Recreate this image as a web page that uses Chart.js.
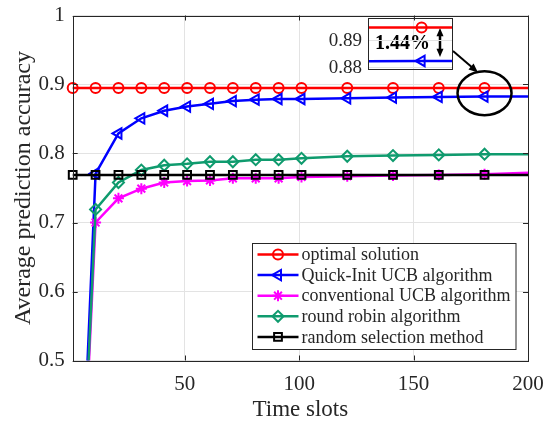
<!DOCTYPE html>
<html>
<head>
<meta charset="utf-8">
<script src="https://cdn.jsdelivr.net/npm/chart.js@4.4.0/dist/chart.umd.min.js"></script>
<style>
    html, body { margin: 0; padding: 0; background: #fff; }
    #wrap { position: relative; width: 547px; height: 421px; }
    #main { position: absolute; left: 0; top: 0; }
    #inset { position: absolute; left: 320px; top: 8px; }
</style>
</head>
<body>
<div id="wrap">
    <canvas id="main" width="547" height="421"></canvas>
    <canvas id="inset" width="140" height="84"></canvas>
</div>
<script>
// time slots where the curves were sampled (markers on all but the last one)
const slots = [1, 11, 21, 31, 41, 51, 61, 71, 81, 91, 101, 121, 141, 161, 181, 200];

const optimal    = [0.895, 0.895, 0.895, 0.895, 0.895, 0.895, 0.895, 0.895, 0.895, 0.895, 0.895, 0.895, 0.895, 0.895, 0.895, 0.895];
const quickInit  = [0, 0.771, 0.829, 0.851, 0.862, 0.868, 0.872, 0.876, 0.878, 0.879, 0.879, 0.880, 0.881, 0.882, 0.8825, 0.8825];
const conventional = [0, 0.700, 0.735, 0.749, 0.758, 0.760, 0.761, 0.764, 0.764, 0.764, 0.766, 0.767, 0.768, 0.769, 0.770, 0.772];
const roundRobin = [0, 0.719, 0.758, 0.776, 0.783, 0.785, 0.788, 0.788, 0.791, 0.791, 0.793, 0.796, 0.797, 0.798, 0.799, 0.799];
const randomSel  = [0.769, 0.769, 0.769, 0.769, 0.769, 0.769, 0.769, 0.769, 0.769, 0.769, 0.769, 0.769, 0.769, 0.769, 0.769, 0.769];

const xTicks = [50, 100, 150, 200];
const yTicks = [0.5, 0.6, 0.7, 0.8, 0.9, 1];
const insetYTicks = [0.88, 0.89];

const SERIF = "'Liberation Serif', 'DejaVu Serif', serif";
const INK = '#262626';

function series(label, values, color, style, radius, order, rotation, clip) {
    return {
        label,
        data: slots.map((s, i) => ({ x: s, y: values[i] })),
        borderColor: color,
        backgroundColor: 'rgba(0,0,0,0)',
        pointBorderColor: color,
        pointBackgroundColor: 'rgba(0,0,0,0)',
        borderWidth: 2.5,
        pointBorderWidth: 2,
        pointStyle: style,
        pointRotation: rotation || 0,
        pointRadius: ctx => ctx.dataIndex === slots.length - 1 ? 0 : radius,
        tension: 0,
        order,
        clip
    };
}

const edgeClip = { left: 10, top: 0, right: 0, bottom: 0 };
const looseClip = { left: 10, top: 10, right: 0, bottom: 10 };

function buildDatasets() {
    return [
        series('optimal solution', optimal, '#ff0000', 'circle', 5, 5, 0, looseClip),
        series('Quick-Init UCB algorithm', quickInit, '#0000ff', 'triangle', 6, 4, 270, edgeClip),
        series('conventional UCB algorithm', conventional, '#ff00ff', 'star', 5.5, 3, 0, edgeClip),
        series('round robin algorithm', roundRobin, '#0f9b6e', 'rectRot', 5.5, 2, 0, edgeClip),
        series('random selection method', randomSel, '#000000', 'rect', 5.5, 1, 0, looseClip)
    ];
}

function markerAt(ctx, ds, x, y) {
    ctx.save();
    ctx.strokeStyle = ds.pointBorderColor;
    ctx.fillStyle = 'rgba(0,0,0,0)';
    ctx.lineWidth = ds.pointBorderWidth;
    Chart.helpers.drawPoint(ctx, {
        pointStyle: ds.pointStyle,
        radius: ds.pointRadius({ dataIndex: 0 }),
        rotation: ds.pointRotation,
        borderWidth: ds.pointBorderWidth
    }, x, y);
    ctx.restore();
}

function arrowHead(ctx, x1, y1, x2, y2, size) {
    const a = Math.atan2(y2 - y1, x2 - x1);
    ctx.beginPath();
    ctx.moveTo(x2, y2);
    ctx.lineTo(x2 - size * Math.cos(a - 0.4), y2 - size * Math.sin(a - 0.4));
    ctx.lineTo(x2 - size * Math.cos(a + 0.4), y2 - size * Math.sin(a + 0.4));
    ctx.closePath();
    ctx.fill();
}

// keep tick labels from pushing the plot area around
function noLabelPadding(s) {
    s.paddingTop = 0;
    s.paddingBottom = 0;
    s.paddingLeft = 0;
    s.paddingRight = 0;
}

// frame, inward ticks, legend box and annotation marks
const decorations = {
    id: 'decorations',
    afterDatasetsDraw(chart) {
        const { ctx, chartArea: a, scales: { x, y } } = chart;
        ctx.save();
        ctx.strokeStyle = INK;
        ctx.lineWidth = 1;
        ctx.strokeRect(Math.round(a.left) + 0.5, Math.round(a.top) + 0.5,
            Math.round(a.right - a.left), Math.round(a.bottom - a.top));
        ctx.beginPath();
        xTicks.forEach(v => {
            const px = Math.round(x.getPixelForValue(v)) + 0.5;
            ctx.moveTo(px, a.bottom); ctx.lineTo(px, a.bottom - 5);
            ctx.moveTo(px, a.top); ctx.lineTo(px, a.top + 5);
        });
        yTicks.forEach(v => {
            const py = Math.round(y.getPixelForValue(v)) + 0.5;
            ctx.moveTo(a.left, py); ctx.lineTo(a.left + 5, py);
            ctx.moveTo(a.right, py); ctx.lineTo(a.right - 5, py);
        });
        ctx.stroke();

        // legend
        const lx = 252.5, ly = 243.5, lw = 263.5, lh = 106;
        ctx.fillStyle = '#fff';
        ctx.fillRect(lx, ly, lw, lh);
        ctx.strokeRect(lx, ly, lw, lh);
        ctx.font = '18px ' + SERIF;
        ctx.textBaseline = 'middle';
        chart.data.datasets.forEach((ds, i) => {
            const ry = ly + 11 + i * 20.6;
            ctx.strokeStyle = ds.borderColor;
            ctx.lineWidth = 2.5;
            ctx.beginPath();
            ctx.moveTo(lx + 5, ry); ctx.lineTo(lx + 46, ry);
            ctx.stroke();
            markerAt(ctx, ds, lx + 25.5, ry);
            ctx.fillStyle = INK;
            ctx.fillText(ds.label, lx + 49, ry + 1);
        });

        // ellipse around the last marked slot
        const cx = x.getPixelForValue(slots[slots.length - 2]);
        const cy = y.getPixelForValue((optimal[14] + quickInit[14]) / 2) + 1;
        ctx.strokeStyle = '#000';
        ctx.lineWidth = 2.5;
        ctx.beginPath();
        ctx.ellipse(cx, cy, 27, 22, 0, 0, Math.PI * 2);
        ctx.stroke();

        // pointer from inset to ellipse
        ctx.lineWidth = 2;
        ctx.fillStyle = '#000';
        ctx.beginPath();
        ctx.moveTo(453, 51); ctx.lineTo(474, 69);
        ctx.stroke();
        arrowHead(ctx, 453, 51, 478, 72.5, 10);

        // gap marker inside the inset
        ctx.lineWidth = 2.5;
        ctx.beginPath();
        ctx.moveTo(440, 33); ctx.lineTo(440, 52);
        ctx.stroke();
        arrowHead(ctx, 440, 40, 440, 28, 9);
        arrowHead(ctx, 440, 45, 440, 57, 9);

        ctx.font = 'bold 20px ' + SERIF;
        ctx.fillStyle = '#000';
        ctx.textBaseline = 'middle';
        ctx.fillText('1.44%', 375, 44);
        ctx.restore();
    }
};

new Chart(document.getElementById('main'), {
    type: 'line',
    data: { datasets: buildDatasets() },
    options: {
        responsive: false,
        animation: false,
        devicePixelRatio: 1,
        layout: { padding: { top: 15.5, right: 19, bottom: 0, left: 0 } },
        plugins: { legend: { display: false }, tooltip: { enabled: false } },
        scales: {
            x: {
                type: 'linear',
                min: 1,
                max: 200,
                afterBuildTicks: s => { s.ticks = xTicks.map(v => ({ value: v })); },
                afterFit: s => { s.height = 60.5; noLabelPadding(s); },
                grid: { color: '#e3e3e3', drawTicks: false },
                border: { display: false },
                ticks: { color: INK, font: { family: SERIF, size: 21 }, padding: 11, maxRotation: 0 },
                title: { display: true, text: 'Time slots', color: INK, font: { family: SERIF, size: 23, lineHeight: 1 }, padding: { top: 0, bottom: 0 } }
            },
            y: {
                min: 0.5,
                max: 1,
                afterBuildTicks: s => { s.ticks = yTicks.map(v => ({ value: v })); },
                afterFit: s => { s.width = 72.7; noLabelPadding(s); },
                grid: { color: '#e3e3e3', drawTicks: false },
                border: { display: false },
                ticks: { color: INK, font: { family: SERIF, size: 21 }, padding: 8, callback: v => String(+v.toFixed(2)) },
                title: { display: true, text: 'Average prediction accuracy', color: INK, font: { family: SERIF, size: 24 }, padding: { top: 9, bottom: 0 } }
            }
        }
    },
    plugins: [decorations]
});

// zoomed inset around the last marked slot
const insetFrame = {
    id: 'insetFrame',
    afterDatasetsDraw(chart) {
        const { ctx, chartArea: a } = chart;
        ctx.save();
        ctx.strokeStyle = INK;
        ctx.lineWidth = 1;
        ctx.strokeRect(Math.round(a.left) + 0.5, Math.round(a.top) + 0.5,
            Math.round(a.right - a.left), Math.round(a.bottom - a.top));
        ctx.restore();
    }
};

const insetSets = buildDatasets().slice(0, 2).map(ds => Object.assign(ds, { clip: 0 }));

new Chart(document.getElementById('inset'), {
    type: 'line',
    data: { datasets: insetSets },
    options: {
        responsive: false,
        animation: false,
        devicePixelRatio: 1,
        layout: { padding: { top: 10, right: 8, bottom: 23, left: 0 } },
        plugins: { legend: { display: false }, tooltip: { enabled: false } },
        scales: {
            x: {
                type: 'linear',
                min: 175,
                max: 184.4,
                display: false
            },
            y: {
                min: 0.8795,
                max: 0.8985,
                afterBuildTicks: s => { s.ticks = insetYTicks.map(v => ({ value: v })); },
                afterFit: s => { s.width = 48; noLabelPadding(s); },
                grid: { color: '#e3e3e3', drawTicks: false },
                border: { display: false },
                ticks: { color: INK, font: { family: SERIF, size: 19 }, padding: 6 }
            }
        }
    },
    plugins: [insetFrame]
});
</script>
</body>
</html>
